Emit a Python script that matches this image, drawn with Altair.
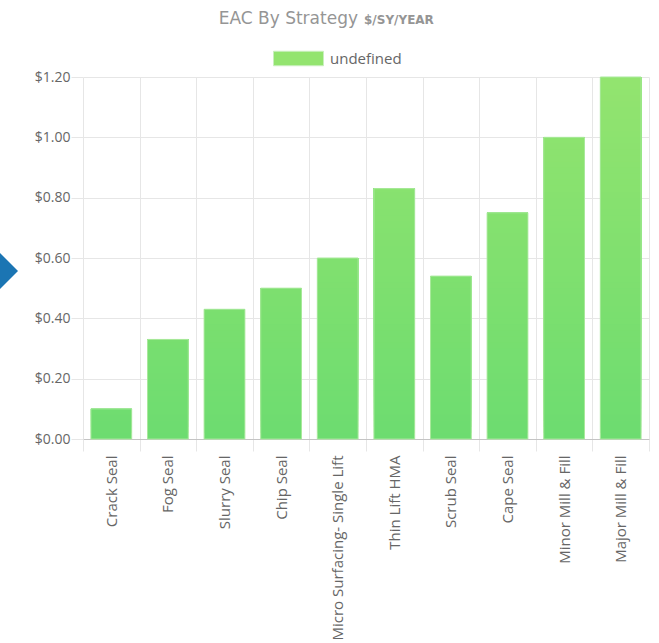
import altair as alt
import pandas as pd

strategies = ["Crack Seal", "Fog Seal", "Slurry Seal", "Chip Seal",
              "Micro Surfacing- Single Lift", "Thin Lift HMA", "Scrub Seal",
              "Cape Seal", "Minor Mill & Fill", "Major Mill & Fill"]
eac = [0.10, 0.33, 0.43, 0.50, 0.60, 0.83, 0.54, 0.75, 1.00, 1.20]
series_name = "undefined"
y_ticks = [0, 0.2, 0.4, 0.6, 0.8, 1.0, 1.2]
title_main = "EAC By Strategy"
title_unit = "$/SY/YEAR"

df = pd.DataFrame({"strategy": strategies, "eac": eac, "series": series_name})

W, H = 566, 362
FONT = "Open Sans"
TFONT = "DejaVu Sans"
GRID = "#e6e6e6"
LABEL = "#666666"
BOTTOM_C = "#6ddc70"
TOP_C = "#93e46f"
BAR_W = alt.RelativeBandSize(0.72)

x_enc = alt.X(
    "strategy:N", sort=strategies,
    scale=alt.Scale(paddingInner=0, paddingOuter=0),
    axis=alt.Axis(title=None, labelAngle=-90, tickBand="extent", grid=True,
                  gridColor=GRID, tickColor=GRID, tickSize=12, labelPadding=4,
                  domainColor="#c4c4c4", labelFont=FONT, labelFontSize=15,
                  labelColor=LABEL, labelLimit=400),
)
y_scale = alt.Scale(domain=[0, 1.2], nice=False, zero=True)
y_axis = alt.Axis(title=None, values=y_ticks, format="$.2f", grid=True,
                  gridColor=GRID, tickColor=GRID, tickSize=12, labelPadding=1,
                  domain=False, labelFont=FONT, labelFontSize=14, labelColor=LABEL)

base = alt.Chart(df)

bands = base.transform_calculate(
    level="sequence(0, datum.eac, 0.02)"
).transform_flatten(["level"]).mark_bar(width=BAR_W).encode(
    x=x_enc,
    y=alt.Y("level:Q", scale=y_scale, axis=y_axis),
    y2="eac:Q",
    color=alt.Color("level:Q", scale=alt.Scale(domain=[0, 1.2], range=[BOTTOM_C, TOP_C]),
                    legend=None),
)

outline = base.mark_bar(width=BAR_W, filled=False, stroke="#a9e99c", strokeWidth=1).encode(
    x=alt.X("strategy:N", sort=strategies),
    y=alt.Y("eac:Q"),
)

legend_layer = base.transform_filter("false").mark_bar(
    width=BAR_W, stroke="#c9efbe", strokeWidth=1
).encode(
    x=alt.X("strategy:N", sort=strategies),
    y=alt.Y("eac:Q"),
    fill=alt.Fill("series:N",
                  scale=alt.Scale(domain=[series_name], range=[TOP_C]),
                  legend=alt.Legend(title=None, orient="none", legendX=190, legendY=-44,
                                    symbolType="M-1,-0.29H1V0.29H-1Z", symbolSize=2500,
                                    symbolStrokeColor="#c9efbe", symbolStrokeWidth=1,
                                    labelFont=FONT, labelFontSize=15, labelColor=LABEL,
                                    labelOffset=6)),
)

one = alt.Data(values=[{}])
t1 = alt.Chart(one).mark_text(
    text=title_main, align="right", baseline="alphabetic", font=TFONT,
    fontSize=17, color="#959595"
).encode(x=alt.value(275), y=alt.value(-53))
t2 = alt.Chart(one).mark_text(
    text=title_unit, align="left", baseline="alphabetic", font=TFONT,
    fontSize=12, fontWeight="bold", color="#959595"
).encode(x=alt.value(281), y=alt.value(-53))
diamond = alt.Chart(one).mark_point(
    shape="diamond", filled=True, size=2304, color="#1b75b3", opacity=1
).encode(x=alt.value(-89), y=alt.value(194))

chart = alt.layer(bands, outline, legend_layer, t1, t2, diamond).properties(
    width=W, height=H,
    autosize=alt.AutoSizeParams(type="none"),
    padding={"left": 83, "top": 77, "right": 10, "bottom": 204},
).configure_view(stroke=None)

chart.save("out.html", embed_options={"renderer": "svg", "actions": False})
